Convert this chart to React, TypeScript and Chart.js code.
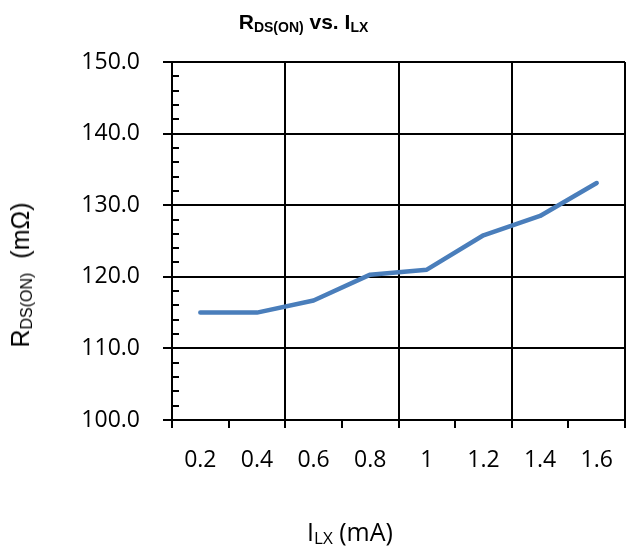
import React, { useEffect, useRef } from 'react';
import { Chart, registerables } from 'chart.js';

Chart.register(...registerables);

const categories: string[] = ['0.2', '0.4', '0.6', '0.8', '1', '1.2', '1.4', '1.6'];
const rdsOn: number[] = [115.0, 115.0, 116.7, 120.3, 121.0, 125.8, 128.5, 133.1];
const yMin = 100;
const yMax = 150;
const yMajorStep = 10;
const yMinorStep = 2;

const minorTicksPlugin = {
  id: 'minorTicks',
  afterDraw(chart: any) {
    const y = chart.scales.y;
    const ctx = chart.ctx;
    ctx.save();
    ctx.strokeStyle = '#000';
    ctx.lineWidth = 2;
    for (let v = yMin + yMinorStep; v < yMax; v += yMinorStep) {
      if (v % yMajorStep === 0) continue;
      const py = Math.round(y.getPixelForValue(v));
      ctx.beginPath();
      ctx.moveTo(chart.chartArea.left, py);
      ctx.lineTo(chart.chartArea.left + 7, py);
      ctx.stroke();
    }
    ctx.restore();
  },
};

export default function App() {
  const canvasRef = useRef<HTMLCanvasElement | null>(null);

  useEffect(() => {
    if (!canvasRef.current) return;
    const chart = new Chart(canvasRef.current, {
      type: 'line',
      data: {
        labels: categories,
        datasets: [
          {
            data: rdsOn,
            borderColor: '#4A7EBB',
            borderWidth: 4.5,
            pointRadius: 0,
            borderCapStyle: 'round',
            borderJoinStyle: 'round',
            tension: 0,
          },
        ],
      },
      options: {
        responsive: false,
        animation: false,
        layout: { padding: { left: 0, right: 12, top: 62, bottom: 0 } },
        plugins: {
          legend: { display: false },
          tooltip: { enabled: false },
          title: { display: false },
        },
        scales: {
          x: {
            type: 'category',
            offset: true,
            grid: {
              offset: true,
              color: (c: any) =>
                c.index === undefined || c.index % 2 === 0 ? '#000' : 'rgba(0,0,0,0)',
              lineWidth: 2,
              tickColor: '#000',
              tickLength: 8,
              tickWidth: 2,
            },
            border: { color: '#000', width: 2 },
            ticks: {
              font: { family: 'Open Sans', size: 23 },
              color: '#000',
              padding: 19,
              autoSkip: false,
              maxRotation: 0,
            },
            afterFit: (s: any) => {
              s.height = 131;
            },
          },
          y: {
            min: yMin,
            max: yMax,
            ticks: {
              stepSize: yMajorStep,
              callback: (v: any) => Number(v).toFixed(1),
              font: { family: 'Open Sans', size: 23 },
              color: '#000',
              padding: 23,
            },
            grid: { color: '#000', lineWidth: 2, tickLength: 9, tickColor: '#000', tickWidth: 2 },
            border: { color: '#000', width: 2 },
            afterFit: (s: any) => {
              s.width = 172;
            },
          },
        },
      },
      plugins: [minorTicksPlugin],
    });
    return () => chart.destroy();
  }, []);

  return (
    <div style={{ position: 'fixed', left: 0, top: 0, width: 637, height: 551, background: '#fff' }}>
      <canvas ref={canvasRef} width={637} height={551} style={{ display: 'block' }} />
      <div
        style={{
          position: 'absolute',
          left: 0,
          width: 607,
          top: 10,
          textAlign: 'center',
          fontFamily: '"Liberation Sans", Arial, sans-serif',
          fontWeight: 'bold',
          fontSize: 21,
          lineHeight: '24px',
          whiteSpace: 'nowrap',
          color: '#000',
        }}
      >
        R<span style={{ fontSize: 14, position: 'relative', top: 3 }}>DS(ON)</span> vs. I
        <span style={{ fontSize: 14, position: 'relative', top: 3 }}>LX</span>
      </div>
      <div
        style={{
          position: 'absolute',
          left: 22,
          top: 275,
          transform: 'translate(-50%, -50%) rotate(-90deg)',
          fontFamily: '"Liberation Sans", Arial, sans-serif',
          fontSize: 25,
          lineHeight: '30px',
          whiteSpace: 'nowrap',
          color: '#000',
        }}
      >
        R<span style={{ fontSize: 16, position: 'relative', top: 3 }}>DS(ON)</span>
        {'\u00a0\u00a0'}(mΩ)
      </div>
      <div
        style={{
          position: 'absolute',
          left: 0,
          width: 700,
          top: 516,
          textAlign: 'center',
          fontFamily: '"Open Sans", sans-serif',
          fontSize: 25,
          lineHeight: '30px',
          whiteSpace: 'nowrap',
          color: '#000',
        }}
      >
        I<span style={{ fontSize: 17, position: 'relative', top: 3 }}>LX</span>{'\u00a0'}(mA)
      </div>
    </div>
  );
}
